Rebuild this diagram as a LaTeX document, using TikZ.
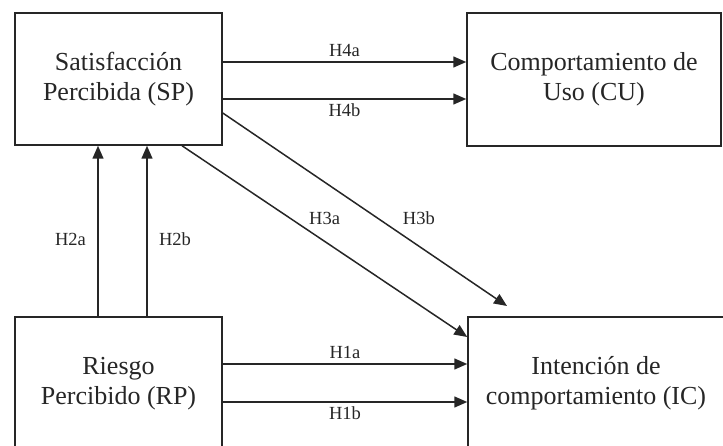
\documentclass[tikz,border=0pt]{standalone}
\usepackage{fontspec}
\setmainfont{Liberation Serif}
\usetikzlibrary{arrows.meta}

\begin{document}
\begin{tikzpicture}[x=1pt, y=-1pt,
    box/.style={draw=black!85, line width=1.5pt, align=center, inner sep=0pt,
        font=\fontsize{26}{30}\selectfont, text=black!85},
    arr/.style={draw=black!85, line width=1.5pt, -{Triangle[length=13pt, width=11pt]}},
    lbl/.style={font=\fontsize{18.5}{20}\selectfont, text=black!85}]

    % Fix the page size
    \useasboundingbox (0,0) rectangle (723,446);

    % Draw the four boxes
    \node[box, minimum width=207pt, minimum height=132pt] (SP) at (118.5,79) {Satisfacción\\Percibida (SP)};
    \node[box, minimum width=254pt, minimum height=133pt] (CU) at (594,79.5) {Comportamiento de\\Uso (CU)};
    \node[box, minimum width=207pt, minimum height=133pt] (RP) at (118.5,383.5) {Riesgo\\Percibido (RP)};
    \node[box, minimum width=256pt, minimum height=133pt] (IC) at (596,383.5) {Intención de\\comportamiento (IC)};

    % Free end of H3b
    \coordinate (h3b) at (507,306);

    % Draw the arrows from SP to CU
    \draw[arr] ([yshift=17pt]SP.east) -- ([yshift=17pt]SP.east -| CU.west)
        node[lbl, midway, above=1pt] {H4a};
    \draw[arr] ([yshift=-20pt]SP.east) -- ([yshift=-20pt]SP.east -| CU.west)
        node[lbl, midway, below=1pt] {H4b};

    % Draw the arrows from RP to SP
    \draw[arr] ([xshift=-20.5pt]RP.north) -- ([xshift=-20.5pt]SP.south)
        node[lbl, pos=0.45, left=8pt] {H2a};
    \draw[arr] ([xshift=28.5pt]RP.north) -- ([xshift=28.5pt]SP.south)
        node[lbl, pos=0.45, right=8pt] {H2b};

    % Draw the diagonal arrows
    \draw[arr] ([xshift=63.5pt]SP.south) -- ([yshift=46.5pt]IC.west)
        node[lbl, pos=0.5, yshift=23pt] {H3a};
    \draw[arr] ([yshift=-34pt]SP.east) -- (h3b)
        node[lbl, pos=0.69, yshift=28pt] {H3b};

    % Draw the arrows from RP to IC
    \draw[arr] ([yshift=19.5pt]RP.east) -- ([yshift=19.5pt]RP.east -| IC.west)
        node[lbl, midway, above=1pt] {H1a};
    \draw[arr] ([yshift=-18.5pt]RP.east) -- ([yshift=-18.5pt]RP.east -| IC.west)
        node[lbl, midway, below=1pt] {H1b};

\end{tikzpicture}
\end{document}
